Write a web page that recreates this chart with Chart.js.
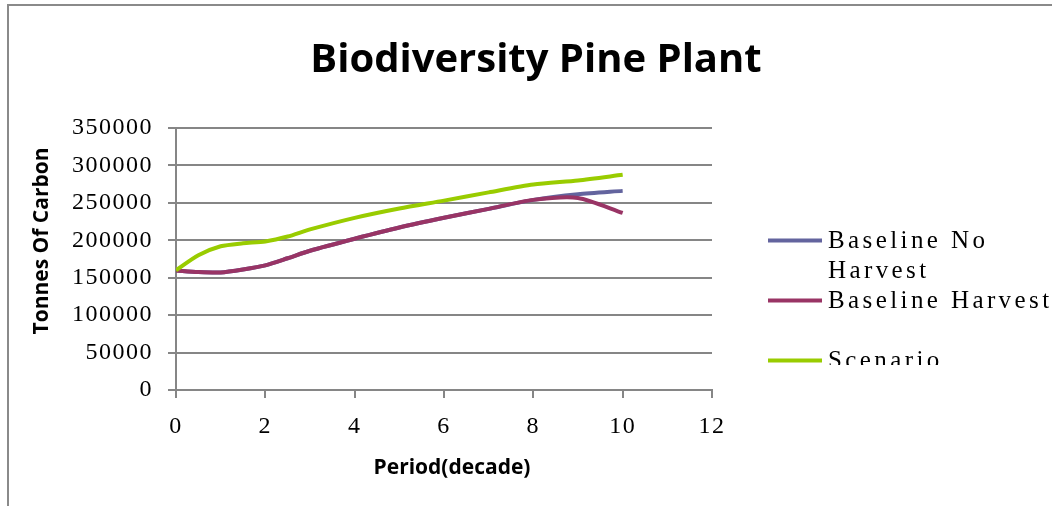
<!DOCTYPE html>
<html>
<head>
<meta charset="utf-8">
<script src="https://cdn.jsdelivr.net/npm/chart.js@4.4.1/dist/chart.umd.min.js"></script>
<style>
  html, body { margin: 0; padding: 0; background: #ffffff; }
  #wrap { width: 1052px; height: 506px; }
</style>
</head>
<body>
<div id="wrap"><canvas id="chart" width="1052" height="506"></canvas></div>
<script>
// Period in decades
const periods = [0, 0.5, 1, 1.5, 2, 2.5, 3, 4, 5, 6, 7, 8, 9, 10];

// Tonnes of carbon per scenario
const baselineNoHarvest = [159500, 157500, 157000, 161000, 166500, 176000, 186000, 202000, 217000, 230000, 242000, 254000, 261500, 266000];
const baselineHarvest   = [159500, 157500, 157000, 161000, 166500, 176000, 186000, 202000, 217000, 230000, 242000, 254000, 256500, 236500];
const scenario          = [160000, 180000, 192000, 196000, 198500, 205000, 214500, 230000, 242500, 253000, 264000, 274500, 280000, 287500];

const seriesNames = ['Baseline No Harvest', 'Baseline Harvest', 'Scenario'];
const seriesColors = ['#63649e', '#993465', '#99cc00'];

const xTickValues = [0, 2, 4, 6, 8, 10, 12];
const yTickValues = [0, 50000, 100000, 150000, 200000, 250000, 300000, 350000];

const chartTitle = 'Biodiversity Pine Plant';
const xTitle = 'Period(decade)';
const yTitle = 'Tonnes Of Carbon';

const toPoints = vals => periods.map((p, i) => ({ x: p, y: vals[i] }));
const seriesValues = [baselineNoHarvest, baselineHarvest, scenario];

const AXIS_GREY = '#868686';
const TICK_FONT = { family: '"Liberation Serif", serif', size: 24 };

// White page with the grey frame of the chart box
const frame = {
  id: 'frame',
  beforeDraw(chart) {
    const ctx = chart.ctx;
    ctx.save();
    ctx.fillStyle = '#ffffff';
    ctx.fillRect(0, 0, chart.width, chart.height);
    ctx.strokeStyle = '#8a8a8a';
    ctx.lineWidth = 2;
    ctx.strokeRect(8, 5, chart.width + 40, chart.height + 40);
    ctx.restore();
  }
};

// Tick labels are drawn after the lines (ticks.z = 1); give them a wider pitch
const tickSpacing = {
  id: 'tickSpacing',
  afterDatasetsDraw(chart) { chart.ctx.letterSpacing = '1.5px'; },
  afterDraw(chart) { chart.ctx.letterSpacing = '0px'; }
};

// Axis titles and the legend at the right
const annotations = {
  id: 'annotations',
  afterDraw(chart) {
    const ctx = chart.ctx;
    ctx.save();
    ctx.letterSpacing = '0px';
    ctx.fillStyle = '#000000';
    ctx.font = 'bold 21px "Open Sans", sans-serif';
    ctx.textAlign = 'center';
    ctx.textBaseline = 'middle';
    ctx.fillText(xTitle, 452, 468);
    ctx.save();
    ctx.translate(42, 241);
    ctx.rotate(-Math.PI / 2);
    ctx.fillText(yTitle, 0, 0);
    ctx.restore();

    // legend
    ctx.beginPath();
    ctx.rect(760, 220, 300, 145);
    ctx.clip();
    const baselines = [248, 308, 368];
    const textX = 828, maxW = 232;
    ctx.font = '25px "Liberation Serif", serif';
    ctx.letterSpacing = '3.4px';
    ctx.textAlign = 'left';
    ctx.textBaseline = 'alphabetic';
    chart.data.datasets.forEach((ds, i) => {
      const by = baselines[i];
      ctx.strokeStyle = ds.borderColor;
      ctx.lineWidth = 4;
      ctx.beginPath();
      ctx.moveTo(768, by - 7.5);
      ctx.lineTo(822, by - 7.5);
      ctx.stroke();
      // simple word wrap
      const words = ds.label.split(' ');
      const lines = [];
      let cur = '';
      words.forEach(w => {
        const t = cur ? cur + ' ' + w : w;
        if (cur && ctx.measureText(t).width > maxW) { lines.push(cur); cur = w; }
        else cur = t;
      });
      lines.push(cur);
      lines.forEach((ln, k) => ctx.fillText(ln, textX, by + k * 30));
    });
    ctx.restore();
  }
};

new Chart(document.getElementById('chart'), {
  type: 'line',
  data: {
    datasets: seriesValues.map((vals, i) => ({
      label: seriesNames[i],
      data: toPoints(vals),
      borderColor: seriesColors[i],
      backgroundColor: seriesColors[i],
      borderWidth: 4,
      pointRadius: 0,
      tension: 0.25,
      fill: false,
      order: 3 - i
    }))
  },
  options: {
    responsive: false,
    animation: false,
    devicePixelRatio: 1,
    layout: { padding: { left: 20, right: 0, top: 0, bottom: 0 } },
    plugins: {
      legend: { display: false },
      tooltip: { enabled: false },
      title: {
        display: true,
        text: chartTitle,
        color: '#000000',
        font: { family: '"Open Sans", sans-serif', size: 40, weight: 'bold', lineHeight: 1.2 },
        padding: { top: 37, bottom: 43 }
      }
    },
    scales: {
      x: {
        type: 'linear',
        min: 0,
        max: 12,
        afterBuildTicks: s => { s.ticks = xTickValues.map(v => ({ value: v })); },
        ticks: { font: TICK_FONT, color: '#000000', padding: 14, maxRotation: 0, z: 1 },
        grid: { display: true, drawOnChartArea: false, tickLength: 8, color: AXIS_GREY, lineWidth: 2 },
        border: { display: true, color: AXIS_GREY, width: 2 },
        afterFit: s => { s.height = 116; }
      },
      y: {
        type: 'linear',
        min: 0,
        max: 350000,
        afterBuildTicks: s => { s.ticks = yTickValues.map(v => ({ value: v })); },
        ticks: { font: TICK_FONT, color: '#000000', padding: 15, z: 1, callback: v => String(v) },
        grid: { display: true, tickLength: 8, color: AXIS_GREY, lineWidth: 2 },
        border: { display: true, color: AXIS_GREY, width: 2 },
        afterFit: s => { s.width = 156; }
      },
      legendSpace: {
        type: 'linear',
        position: 'right',
        display: true,
        grid: { display: false },
        ticks: { display: false },
        border: { display: false },
        afterFit: s => { s.width = 340; }
      }
    }
  },
  plugins: [frame, tickSpacing, annotations]
});
</script>
</body>
</html>
